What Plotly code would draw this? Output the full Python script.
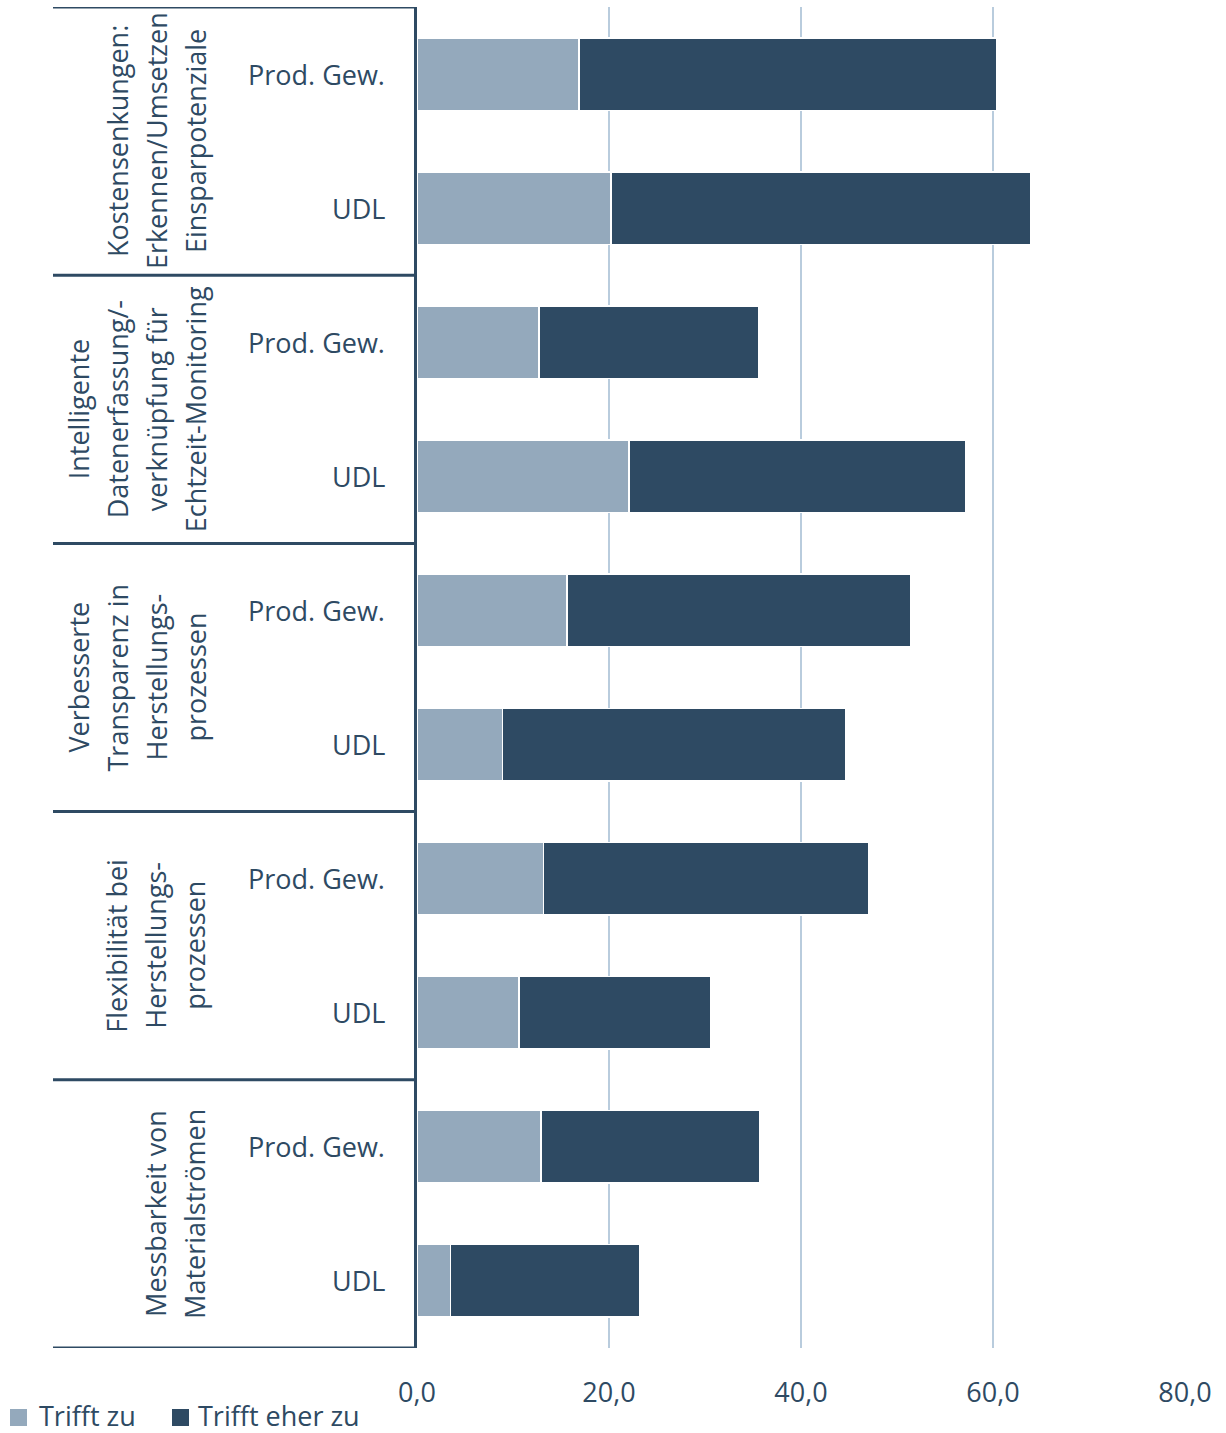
import plotly.graph_objects as go

# Topic groups (each label split into its printed lines) and respondent sectors
group_lines = [
    ["Kostensenkungen:", "Erkennen/Umsetzen", "Einsparpotenziale"],
    ["Intelligente", "Datenerfassung/-", "verknüpfung für", "Echtzeit-Monitoring"],
    ["Verbesserte", "Transparenz in", "Herstellungs-", "prozessen"],
    ["Flexibilität bei", "Herstellungs-", "prozessen"],
    ["Messbarkeit von", "Materialströmen"],
]
sectors = ["Prod. Gew.", "UDL"]

# Shares in percent, one value per (group, sector) row, top to bottom
trifft_zu = [16.9, 20.2, 12.7, 22.1, 15.6, 8.9, 13.2, 10.6, 12.9, 3.5]
trifft_eher_zu = [43.5, 43.7, 22.9, 35.1, 35.8, 35.8, 33.9, 20.0, 22.8, 19.7]

series_names = ["Trifft zu", "Trifft eher zu"]
x_ticks = [0, 20, 40, 60, 80]
x_tick_text = ["0,0", "20,0", "40,0", "60,0", "80,0"]

DARK = "#2E4A63"
LIGHT = "#94A9BC"
GRID = "#B9CCDD"
FONT = "Open Sans"

W, H = 1226, 1433
L, R, T, B = 417, 41, 7, 85
plot_w = W - L - R
plot_h = H - T - B

rows = [f"{g[0]} | {s}" for g in group_lines for s in sectors]

fig = go.Figure()
for name, vals, col in [(series_names[0], trifft_zu, LIGHT),
                        (series_names[1], trifft_eher_zu, DARK)]:
    fig.add_trace(go.Bar(
        y=rows, x=vals, name=name, orientation="h",
        marker=dict(color=col, line=dict(color="white", width=1.5)),
        width=0.54, showlegend=False,
    ))

def px_to_paper_x(px):
    return (px - L) / plot_w

def px_to_paper_y(py):
    return (H - B - py) / plot_h

shapes = []
annotations = []

# Horizontal dividers between topic groups in the label column
for k in range(len(group_lines) + 1):
    yb = 2 * k - 0.5
    shapes.append(dict(type="line", xref="paper", yref="y",
                       x0=px_to_paper_x(53), x1=0, y0=yb, y1=yb,
                       line=dict(color=DARK, width=3), layer="above"))

# Rotated group labels, one annotation per printed line
line_gap = 39
for gi, lines in enumerate(group_lines):
    n = len(lines)
    yc = 2 * gi + 0.5
    for li, txt in enumerate(lines):
        xc = 195 - line_gap * (n - 1 - li)
        annotations.append(dict(
            text=txt, xref="paper", yref="y", x=px_to_paper_x(xc), y=yc,
            xanchor="center", yanchor="middle", textangle=-90,
            showarrow=False, font=dict(family=FONT, size=27, color=DARK),
        ))

# Sector labels next to each bar
for r in rows:
    annotations.append(dict(
        text=r.split(" | ")[1], xref="paper", yref="y", x=0, y=r,
        xanchor="right", yanchor="middle", xshift=-30,
        showarrow=False, font=dict(family=FONT, size=27, color=DARK),
    ))

# Legend drawn beneath the label column
legend_items = [(series_names[0], LIGHT, 10, 37), (series_names[1], DARK, 172, 196)]
for name, col, sx, tx in legend_items:
    shapes.append(dict(type="rect", xref="paper", yref="paper",
                       x0=px_to_paper_x(sx), x1=px_to_paper_x(sx + 17),
                       y0=px_to_paper_y(1426), y1=px_to_paper_y(1409),
                       fillcolor=col, line=dict(width=0)))
    annotations.append(dict(
        text=name, xref="paper", yref="paper", x=px_to_paper_x(tx),
        y=px_to_paper_y(1415), xanchor="left", yanchor="middle",
        showarrow=False, font=dict(family=FONT, size=27, color=DARK),
    ))

fig.update_layout(
    width=W, height=H,
    margin=dict(l=L, r=R, t=T, b=B, pad=0),
    barmode="stack",
    plot_bgcolor="white", paper_bgcolor="white",
    font=dict(family=FONT, size=27, color=DARK),
    shapes=shapes, annotations=annotations,
    bargap=0.46,
)
fig.update_xaxes(
    range=[0, 80], tickvals=x_ticks, ticktext=x_tick_text,
    showgrid=True, gridcolor=GRID, gridwidth=2, zeroline=False,
    showline=False, ticks="", ticklabelstandoff=26,
    tickfont=dict(family=FONT, size=27, color=DARK),
)
fig.update_yaxes(
    categoryorder="array", categoryarray=rows, autorange=False,
    range=[len(rows) - 0.5, -0.5], showticklabels=False, showgrid=False,
    showline=True, linecolor=DARK, linewidth=3, zeroline=False, ticks="",
)

fig.write_html("out.html")
